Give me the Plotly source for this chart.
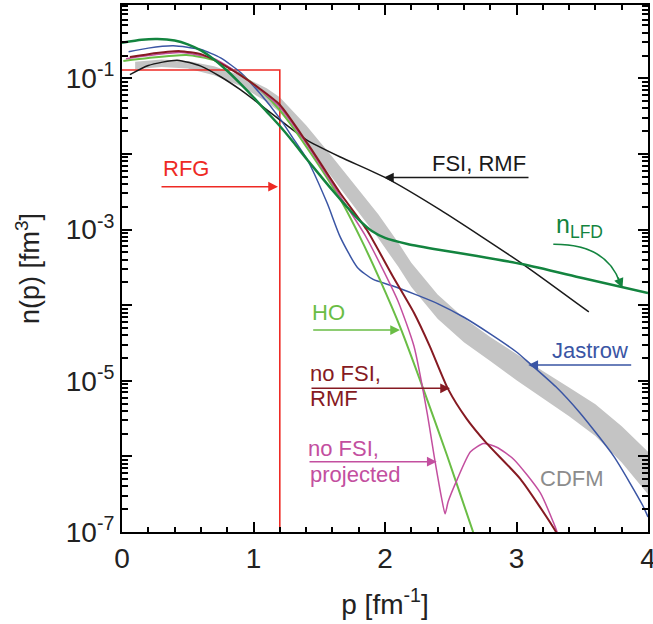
import plotly.graph_objects as go

# ---------------- data ----------------
p_rfg = [0.0, 1.2, 1.2]
n_rfg = [0.129, 0.129, 1e-9]

p_fsi = [0.06, 0.2, 0.42, 0.6, 0.75, 0.9, 1.0, 1.2, 1.4, 1.66, 2.0, 2.42, 3.05, 3.55]
n_fsi = [0.112, 0.148, 0.174, 0.145, 0.105, 0.0708, 0.0525, 0.0282, 0.0155,
         0.00912, 0.0049, 0.00182, 3.47e-4, 8.13e-5]

p_lfd = [0.0, 0.15, 0.27, 0.4, 0.5, 0.6, 0.7, 0.8, 0.9, 1.0, 1.1, 1.2, 1.3, 1.41,
         1.5, 1.6, 1.7, 1.8, 1.9, 2.0, 2.17, 2.42, 2.7, 3.05, 3.5, 4.0]
n_lfd = [0.295, 0.324, 0.331, 0.316, 0.282, 0.234, 0.178, 0.126, 0.0851, 0.0562,
         0.0363, 0.0234, 0.0145, 0.00832, 0.00537, 0.00331, 0.00209, 0.00135,
         9.55e-4, 7.76e-4, 6.46e-4, 5.37e-4, 4.47e-4, 3.47e-4, 2.29e-4, 1.45e-4]

p_jas = [0.05, 0.2, 0.39, 0.6, 0.75, 0.9, 1.05, 1.2, 1.3, 1.41, 1.56, 1.66, 1.79,
         1.91, 2.05, 2.22, 2.4, 2.6, 2.8, 3.0, 3.1, 3.3, 3.48, 3.74, 3.96, 4.0]
n_jas = [0.224, 0.251, 0.269, 0.240, 0.186, 0.120, 0.0631, 0.0295, 0.0162, 0.00832,
         0.00224, 7.94e-4, 3.16e-4, 2.19e-4, 1.82e-4, 1.41e-4, 1.05e-4, 6.92e-5,
         4.17e-5, 2.40e-5, 1.70e-5, 8.32e-6, 3.80e-6, 1.0e-6, 2.24e-7, 1.58e-7]

p_ho = [0.01, 0.2, 0.49, 0.7, 0.9, 1.05, 1.2, 1.4, 1.66, 1.81, 1.96, 2.12, 2.3,
        2.47, 2.67, 2.72]
n_ho = [0.170, 0.186, 0.204, 0.174, 0.112, 0.0708, 0.038, 0.0126, 0.00251,
        7.94e-4, 2.19e-4, 4.9e-5, 7.08e-6, 1.05e-6, 1.0e-7, 5.62e-8]

p_rmf = [0.06, 0.2, 0.44, 0.6, 0.75, 0.9, 1.05, 1.2, 1.41, 1.66, 1.86, 2.06, 2.22,
         2.34, 2.48, 2.62, 2.77, 3.03, 3.28, 3.35]
n_rmf = [0.191, 0.209, 0.229, 0.209, 0.158, 0.110, 0.0724, 0.0447, 0.0138, 0.00302,
         0.001, 2.4e-4, 7.94e-5, 2.88e-5, 7.76e-6, 3.16e-6, 1.51e-6, 5.01e-7,
         1.15e-7, 7.08e-8]

p_proj = [0.03, 0.2, 0.45, 0.7, 0.9, 1.05, 1.2, 1.4, 1.66, 1.85, 1.99, 2.1, 2.22,
          2.32, 2.38, 2.43, 2.457, 2.48, 2.55, 2.65, 2.75, 2.85, 2.98, 3.18, 3.28, 3.33]
n_proj = [0.182, 0.2, 0.219, 0.182, 0.112, 0.0708, 0.0417, 0.0138, 0.00275,
          8.32e-4, 2.82e-4, 1.12e-4, 2.88e-5, 3.8e-6, 8.71e-7, 2.82e-7, 1.74e-7,
          2.51e-7, 5.01e-7, 1.15e-6, 1.48e-6, 1.32e-6, 9.12e-7, 3.31e-7, 1.35e-7, 7.94e-8]

p_cdfm = [0.1, 0.3, 0.5, 0.7, 0.9, 1.1, 1.2, 1.4, 1.6, 1.8, 1.95, 2.1, 2.2, 2.4,
          2.6, 2.8, 3.0, 3.2, 3.4, 3.6, 3.8, 4.0]
n_cdfm_hi = [0.166, 0.178, 0.170, 0.145, 0.110, 0.0741, 0.0562, 0.024, 0.00912,
             0.00339, 0.00158, 6.76e-4, 3.63e-4, 1.38e-4, 6.76e-5, 3.8e-5, 2.24e-5,
             1.35e-5, 8.13e-6, 4.9e-6, 2.51e-6, 1.15e-6]
n_cdfm_lo = [0.132, 0.141, 0.135, 0.110, 0.0794, 0.049, 0.0355, 0.0138, 0.00479,
             0.0017, 7.59e-4, 3.24e-4, 1.74e-4, 6.61e-5, 3.24e-5, 1.82e-5, 1.02e-5,
             5.89e-6, 3.39e-6, 1.86e-6, 8.32e-7, 3.16e-7]

x_tickvals = [0, 1, 2, 3, 4]
y_tickvals = [1e-7, 1e-6, 1e-5, 1e-4, 1e-3, 1e-2, 1e-1, 1.0]
y_ticktext = ["10<sup>-7</sup>", "", "10<sup>-5</sup>", "", "10<sup>-3</sup>", "",
              "10<sup>-1</sup>", ""]
y_minor = [k * 10.0 ** e for e in range(-7, 0) for k in range(2, 10)]

# ---------------- styles ----------------
FONT = "Liberation Sans, Arial, sans-serif"
RED = "#ee2a24"
BLACK = "#1a1a1a"
GREEN = "#13843f"
LGREEN = "#6abd45"
BLUE = "#3a55a4"
MAROON = "#861a22"
MAGENTA = "#c34f9f"
GRAY = "#c4c4c4"

fig = go.Figure()

fig.add_trace(go.Scatter(x=p_cdfm, y=n_cdfm_lo, mode="lines", line=dict(width=0, color=GRAY),
                         showlegend=False, hoverinfo="skip"))
fig.add_trace(go.Scatter(x=p_cdfm, y=n_cdfm_hi, mode="lines", line=dict(width=0, color=GRAY),
                         fill="tonexty", fillcolor=GRAY, showlegend=False, name="CDFM"))

def curve(x, y, color, width, shape="spline", smoothing=0.6):
    fig.add_trace(go.Scatter(x=x, y=y, mode="lines",
                             line=dict(color=color, width=width, shape=shape, smoothing=smoothing),
                             showlegend=False))

curve(p_rfg, n_rfg, RED, 1.6, "linear")
curve(p_fsi, n_fsi, BLACK, 1.5)
curve(p_jas, n_jas, BLUE, 1.5)
curve(p_ho, n_ho, LGREEN, 2.0)
curve(p_proj, n_proj, MAGENTA, 1.5)
curve(p_rmf, n_rmf, MAROON, 2.0)
curve(p_lfd, n_lfd, GREEN, 2.5)

# ---------------- layout ----------------
L, R, T, B = 122, 5, 5, 92
W, H = 653, 624
PW, PH = W - L - R, H - T - B
YR = [-7, -0.03]

def px_to_data(px, py):
    x = (px - L) / PW * 4.0
    y = YR[1] - (py - T) / PH * (YR[1] - YR[0])
    return x, y

def px_to_paper(px, py):
    return (px - L) / PW, (H - B - py) / PH

annotations = []

def label(text, px, py, color, size=22):
    xp, yp = px_to_paper(px, py)
    annotations.append(dict(text=text, x=xp, y=yp, xref="paper", yref="paper",
                            xanchor="left", yanchor="middle", showarrow=False,
                            font=dict(family=FONT, size=size, color=color)))

def arrow(tip_px, tip_py, tail_px, tail_py, color):
    x, y = px_to_data(tip_px, tip_py)
    annotations.append(dict(text="", x=x, y=y, xref="x", yref="y",
                            ax=tail_px - tip_px, ay=tail_py - tip_py,
                            showarrow=True, arrowhead=2, arrowsize=1.3,
                            arrowwidth=1.5, arrowcolor=color, standoff=0))

label("RFG", 161, 168, RED)
arrow(278, 186.7, 160, 186.7, RED)

label("FSI, RMF", 430, 163.5, BLACK)
arrow(384, 177.5, 530, 177.5, BLACK)

label("n<sub>LFD</sub>", 554, 226, GREEN, 25)

label("HO", 310, 312.5, LGREEN)
arrow(400, 330, 311.7, 330, LGREEN)

label("Jastrow", 550, 350, BLUE)
arrow(528.3, 365, 632.7, 365, BLUE)

label("no FSI,", 308, 373, MAROON)
label("RMF", 308, 399, MAROON)
arrow(450, 388.3, 310, 388.3, MAROON)

label("no FSI,", 306, 448, MAGENTA)
label("projected", 308, 474, MAGENTA)
arrow(436.7, 461.7, 308, 461.7, MAGENTA)

label("CDFM", 538, 478.5, "#8c8c8c")

# curved n_LFD arrow
s0 = px_to_paper(553.3, 244.3)
c0 = px_to_paper(607, 244)
e0 = px_to_paper(620, 283)
shapes = [dict(type="path", xref="paper", yref="paper",
               path=f"M {s0[0]},{s0[1]} Q {c0[0]},{c0[1]} {e0[0]},{e0[1]}",
               line=dict(color=GREEN, width=1.5))]
arrow(622.5, 288, 617.5, 276, GREEN)

axis_common = dict(showline=True, linecolor="black", linewidth=2, mirror="ticks",
                   ticks="inside", tickcolor="black", tickwidth=1.5, showgrid=False,
                   zeroline=False, automargin=False, ticklabeloverflow="allow",
                   tickfont=dict(family=FONT, size=28, color="#222"))

fig.update_layout(
    width=W, height=H,
    margin=dict(l=L, r=R, t=T, b=B, autoexpand=False),
    paper_bgcolor="white", plot_bgcolor="white",
    showlegend=False,
    annotations=annotations,
    shapes=shapes,
    xaxis=dict(range=[0, 4], tickvals=x_tickvals, ticklen=10,
               minor=dict(dtick=0.2, tick0=0, ticks="inside", ticklen=5, tickwidth=1.5,
                          tickcolor="black"),
               title=dict(text="p [fm<sup>-1</sup>]", font=dict(family=FONT, size=28, color="#222"),
                          standoff=22),
               **axis_common),
    yaxis=dict(type="log", range=YR, tickmode="array", tickvals=y_tickvals,
               ticktext=y_ticktext, ticklen=10,
               minor=dict(tickmode="array", tickvals=y_minor, ticks="inside", ticklen=6,
                          tickwidth=1.5, tickcolor="black"),
               title=dict(text="n(p) [fm<sup>3</sup>]", font=dict(family=FONT, size=27, color="#222"),
                          standoff=18),
               **axis_common),
)

fig.write_html("out.html", config={"displayModeBar": False},
               post_script="document.body.style.margin='0';")
